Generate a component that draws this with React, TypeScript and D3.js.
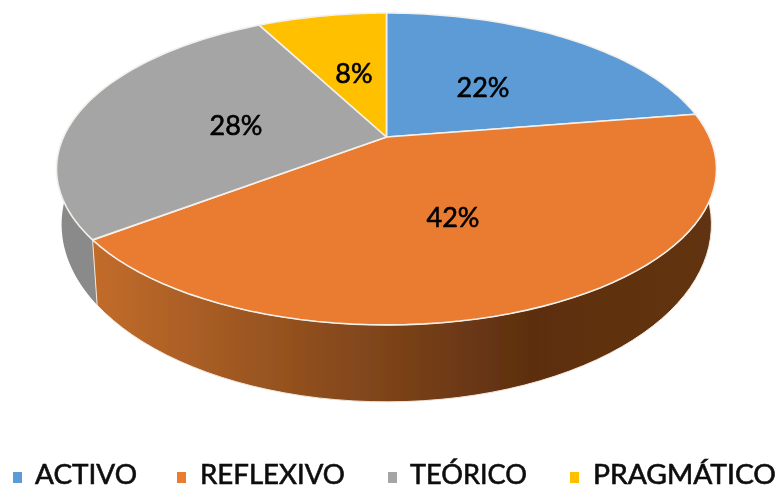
import React from "react";
import * as d3 from "d3";

const categories = ["ACTIVO", "REFLEXIVO", "TEÓRICO", "PRAGMÁTICO"];
const values = [22.49, 42.2, 27.61, 7.7];
const colors = ["#5B9BD5", "#EA7B30", "#A5A5A5", "#FFC000"];
const wallColors = ["#4a7fb0", "url(#wallOrange)", "#8a8a8a", "#c99700"];
const legendBoxes = [13, 177, 388, 570];
const legendText = [35, 200, 410, 593];
const legendWidths = [102, 145, 117, 183];
const labelPos = [[483, 87], [453, 217], [236, 125], [354, 73]];

const k = 0.205;
const project = (a: number, A: number, B: number, cx: number, cy: number): [number, number] => {
  const u = Math.sin(a), v = Math.cos(a), w = 1 + k * v;
  return [cx + (A * u) / w, cy - (B * v) / w];
};
const top = (a: number) => project(a, 323, 149.4, 386.5, 137);
const bottom = (a: number) => project(a, 318, 170, 386.5, 188);
const line = d3.line();
const sweep = (s: number, e: number, f: (a: number) => [number, number]) =>
  d3.range(0, 61).map((i) => f(s + ((e - s) * i) / 60));

export default function App() {
  const arcs = d3.pie<number>().sort(null)(values);
  const pct = d3.format(".0f");
  const labelFont = "Lato,'Liberation Sans',sans-serif";
  return (
    <svg width={784} height={490} style={{ position: "fixed", left: 0, top: 0 }}>
      <defs>
        <linearGradient id="wallOrange" gradientUnits="userSpaceOnUse" x1={93} x2={716} y1={0} y2={0}>
          <stop offset="0" stopColor="#C26C2B" />
          <stop offset="0.35" stopColor="#8E4E1E" />
          <stop offset="0.7" stopColor="#5D2F10" />
          <stop offset="1" stopColor="#613212" />
        </linearGradient>
        <filter id="soft" x="-5%" y="-5%" width="110%" height="110%">
          <feGaussianBlur stdDeviation="0.7" />
        </filter>
      </defs>
      <g filter="url(#soft)">
        {[2, 1].map((i) => {
          const d = arcs[i];
          const pts = [...sweep(d.startAngle, d.endAngle, top), ...sweep(d.endAngle, d.startAngle, bottom)];
          return <path key={i} d={line(pts) + "Z"} fill={wallColors[i]} stroke="#f2e6da" strokeWidth={i === 1 ? 1 : 0} />;
        })}
        {arcs.map((d, i) => {
          const pts: [number, number][] = [[386.5, 137], ...sweep(d.startAngle, d.endAngle, top)];
          return <path key={i} d={line(pts) + "Z"} fill={colors[i]} stroke="#f4f1ec" strokeWidth={1.6} strokeLinejoin="round" />;
        })}
        {arcs.map((d, i) => (
          <text key={i} x={labelPos[i][0]} y={labelPos[i][1] + 9.5} textAnchor="middle" fontFamily={labelFont} fontSize={27} fill="#000" stroke="#000" strokeWidth={0.6}>
            {pct(d.data)}%
          </text>
        ))}
        {categories.map((c, i) => (
          <g key={c}>
            <rect x={legendBoxes[i]} y={472} width={9} height={11} fill={colors[i]} />
            <text x={legendText[i]} y={484} fontFamily={labelFont} fontSize={26} fill="#111" stroke="#111" strokeWidth={0.6} textLength={legendWidths[i]} lengthAdjust="spacingAndGlyphs">
              {c}
            </text>
          </g>
        ))}
      </g>
    </svg>
  );
}
